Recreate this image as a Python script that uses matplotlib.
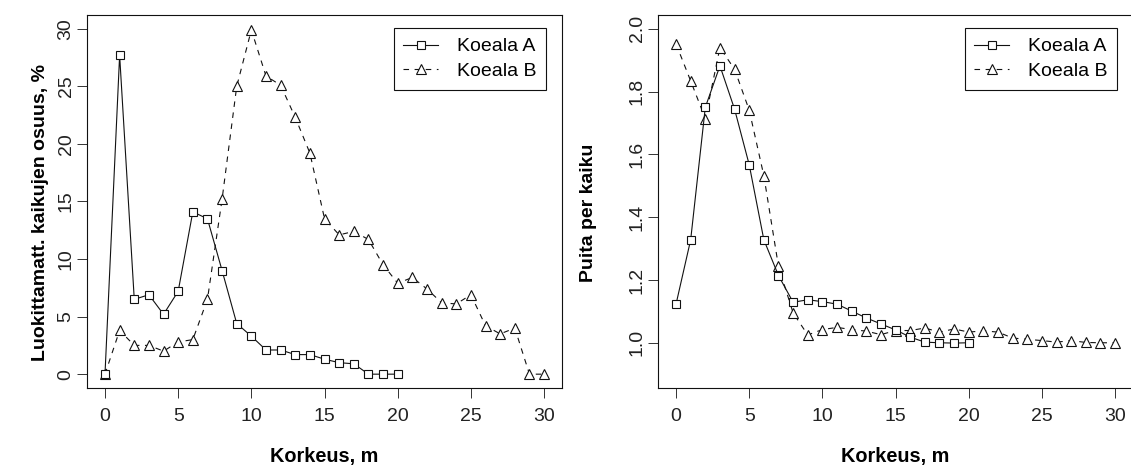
import matplotlib
matplotlib.use("Agg")
import matplotlib.pyplot as plt

# Korkeus, m
korkeus_a = list(range(0, 21))
korkeus_b = list(range(0, 31))

# Vasen kuva: luokittamattomien kaikujen osuus, %
osuus_a = [0.0, 27.7, 6.5, 6.9, 5.2, 7.2, 14.1, 13.5, 9.0, 4.4, 3.3,
           2.1, 2.1, 1.7, 1.7, 1.3, 1.0, 0.9, 0.0, 0.0, 0.0]
osuus_b = [0.0, 3.8, 2.5, 2.5, 2.0, 2.8, 3.0, 6.5, 15.2, 25.0, 29.9,
           25.9, 25.1, 22.3, 19.2, 13.5, 12.1, 12.4, 11.7, 9.5, 7.9,
           8.4, 7.4, 6.2, 6.1, 6.9, 4.2, 3.5, 4.0, 0.0, 0.0]

# Oikea kuva: puita per kaiku
puita_a = [1.123, 1.328, 1.750, 1.882, 1.744, 1.567, 1.328, 1.214, 1.129, 1.137, 1.131,
           1.123, 1.101, 1.079, 1.060, 1.041, 1.018, 1.002, 1.000, 0.999, 1.000]
puita_b = [1.952, 1.834, 1.714, 1.940, 1.871, 1.741, 1.532, 1.243, 1.095, 1.025, 1.042,
           1.049, 1.042, 1.037, 1.026, 1.039, 1.039, 1.047, 1.034, 1.044, 1.034,
           1.038, 1.034, 1.015, 1.011, 1.007, 1.002, 1.007, 1.001, 1.000, 1.000]

plt.rcParams["font.family"] = ["Liberation Sans", "DejaVu Sans"]
plt.rcParams["font.size"] = 14

fig = plt.figure(figsize=(11.31, 4.67), dpi=100)
ax1 = fig.add_axes([0.0773, 0.1692, 0.4193, 0.7987])
ax2 = fig.add_axes([0.5822, 0.1692, 0.4193, 0.7987])

VARI = "#111111"


def piirra(ax, ya, yb, ylim, yticks, ytick_labels, ylabel, ylab_x):
    ax.plot(korkeus_a, ya, color=VARI, lw=0.8, marker="s", markersize=5.6,
            markerfacecolor="white", markeredgecolor=VARI, markeredgewidth=0.8,
            label="Koeala A", zorder=3)
    ax.plot(korkeus_b, yb, color=VARI, lw=0.8, linestyle=(0, (5, 5)), marker="^",
            markersize=7.5, markerfacecolor="white", markeredgecolor=VARI,
            markeredgewidth=0.8, label="Koeala B", zorder=2)
    ax.set_xlim(-1.2, 31.2)
    ax.set_ylim(*ylim)
    ax.set_xticks([0, 5, 10, 15, 20, 25, 30])
    ax.set_yticks(yticks)
    ax.set_yticklabels(ytick_labels, rotation=90, va="center")
    ax.tick_params(direction="out", length=7.2, width=0.7, colors="#333333",
                   labelcolor="#222222", labelsize=14)
    ax.tick_params(axis="x", pad=7)
    ax.tick_params(axis="y", pad=2)
    for s in ax.spines.values():
        s.set_linewidth(0.8)
        s.set_color(VARI)
    ax.set_xlabel("Korkeus, m", fontweight="bold", fontsize=14.3)
    ax.xaxis.label.set_va("center")
    ax.xaxis.set_label_coords(0.5, -0.185)
    ax.set_ylabel(ylabel, fontweight="bold", fontsize=14)
    ax.yaxis.label.set_va("center")
    ax.yaxis.set_label_coords(ylab_x, 0.47)
    leg = ax.legend(loc="upper right", bbox_to_anchor=(0.967, 0.965),
                    borderaxespad=0, fancybox=False, framealpha=1,
                    edgecolor=VARI, handlelength=1.8, handletextpad=0.95,
                    labelspacing=0.35, borderpad=0.5, fontsize=14)
    leg.get_frame().set_linewidth(0.8)


piirra(ax1, osuus_a, osuus_b, (-1.2, 31.2), [0, 5, 10, 15, 20, 25, 30],
       ["0", "5", "10", "15", "20", "25", "30"],
       "Luokittamatt. kaikujen osuus, %", -0.10)
piirra(ax2, puita_a, puita_b, (0.856, 2.044), [1.0, 1.2, 1.4, 1.6, 1.8, 2.0],
       ["1.0", "1.2", "1.4", "1.6", "1.8", "2.0"],
       "Puita per kaiku", -0.1466)

fig.savefig("out.png", dpi=100)
